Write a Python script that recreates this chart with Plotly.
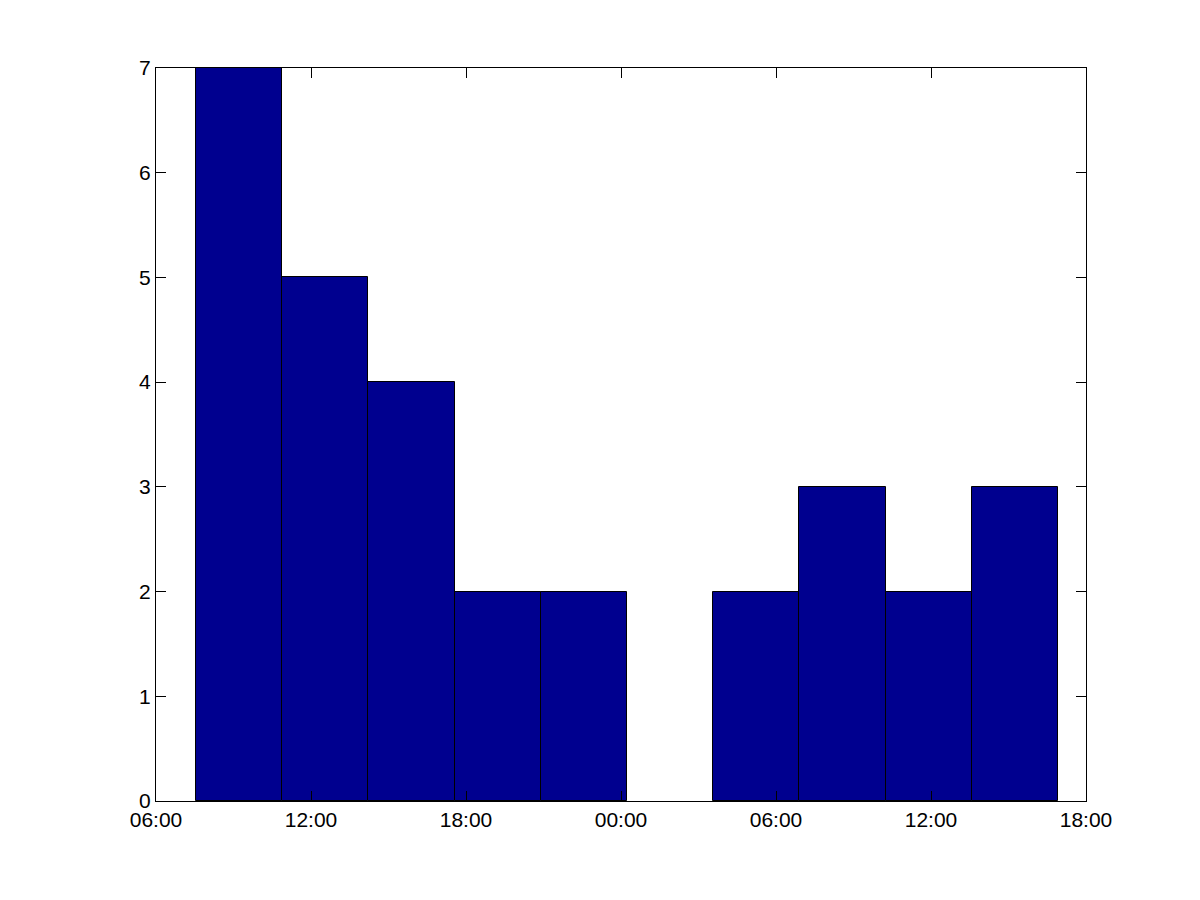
import plotly.graph_objects as go
from datetime import datetime, timedelta

# Histogram data (bins of ~3h20m starting ~07:33 on day 1)
bin_start = datetime(2000, 1, 1, 7, 33)
bin_width_hours = 3.337
counts = [7, 5, 4, 2, 2, 0, 2, 3, 2, 3]

x_range = [datetime(2000, 1, 1, 6, 0), datetime(2000, 1, 2, 18, 0)]
y_ticks = [0, 1, 2, 3, 4, 5, 6, 7]

centers = [bin_start + timedelta(hours=bin_width_hours * (i + 0.5)) for i in range(len(counts))]
width_ms = bin_width_hours * 3600 * 1000

fig = go.Figure()
fig.add_trace(go.Bar(
    x=centers, y=counts, width=[width_ms] * len(counts),
    marker=dict(color="#00008F",
                line=dict(color="black", width=[1 if c > 0 else 0 for c in counts])),
    showlegend=False,
))

axis_common = dict(
    showline=True, linecolor="black", linewidth=1, mirror="ticks",
    ticks="inside", ticklen=10, tickcolor="black", tickwidth=1,
    showgrid=False, zeroline=False,
    tickfont=dict(family="Liberation Sans, Arial, sans-serif", size=21, color="black"),
)

fig.update_layout(
    width=1200, height=900,
    margin=dict(l=148, r=122, t=60, b=107),
    paper_bgcolor="white", plot_bgcolor="white",
    bargap=0,
    xaxis=dict(
        type="date", range=x_range, tickformat="%H:%M",
        tick0=datetime(2000, 1, 1, 6, 0), dtick=6 * 3600 * 1000,
        **axis_common,
    ),
    yaxis=dict(range=[0, 7], tickvals=y_ticks, **axis_common),
)

fig.write_html("out.html")
